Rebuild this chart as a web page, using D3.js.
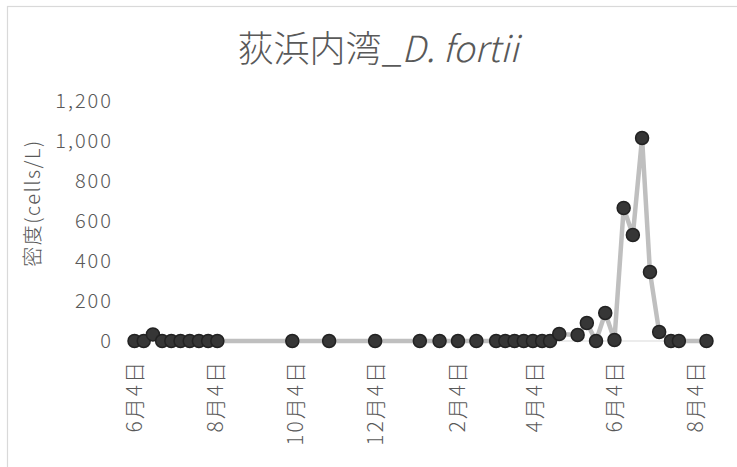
<!DOCTYPE html>
<html>
<head>
<meta charset="utf-8">
<script src="https://cdn.jsdelivr.net/npm/d3@7"></script>
<style>
    body { margin: 0; background: #fff; }
    svg { display: block; font-family: "Noto Sans CJK JP", "Noto Sans", sans-serif; font-weight: 300; }
</style>
</head>
<body>
<svg id="chart" width="737" height="467"></svg>
<script>
"use strict";

// sampling dates and densities (cells/L)
var sampleDates = [
    "2018-06-04", "2018-06-11", "2018-06-18", "2018-06-25", "2018-07-02",
    "2018-07-09", "2018-07-16", "2018-07-23", "2018-07-30", "2018-08-06",
    "2018-10-02", "2018-10-30", "2018-12-04", "2019-01-07", "2019-01-22",
    "2019-02-05", "2019-02-19", "2019-03-06", "2019-03-13", "2019-03-20",
    "2019-03-27", "2019-04-03", "2019-04-10", "2019-04-16", "2019-04-23",
    "2019-05-07", "2019-05-14", "2019-05-21", "2019-05-28", "2019-06-04",
    "2019-06-11", "2019-06-18", "2019-06-25", "2019-07-01", "2019-07-08",
    "2019-07-17", "2019-07-23", "2019-08-13"
];
var densities = [
    0, 0, 33, 0, 0,
    0, 0, 0, 0, 0,
    0, 0, 0, 0, 0,
    0, 0, 0, 0, 0,
    0, 0, 0, 0, 35,
    30, 90, 0, 140, 5,
    665, 530, 1015, 345, 45,
    0, 0, 0
];

var xTickDates = ["2018-06-04", "2018-08-04", "2018-10-04", "2018-12-04",
                  "2019-02-04", "2019-04-04", "2019-06-04", "2019-08-04"];
var yTicks = [0, 200, 400, 600, 800, 1000, 1200];

var titleMain = "荻浜内湾_";
var titleSpecies = "D. fortii";
var yTitle = "密度(cells/L)";

var parse = d3.timeParse("%Y-%m-%d");
var data = sampleDates.map(function(d, i) {
    return { date: parse(d), value: densities[i] };
});

var textColor = "#595959";
var svg = d3.select("#chart");

svg.append("rect")
    .attr("x", 0).attr("y", 0).attr("width", 737).attr("height", 467)
    .attr("fill", "#fff");

// chart border (cut off at right / bottom)
svg.append("rect")
    .attr("x", 7.5).attr("y", 6.5).attr("width", 760).attr("height", 490)
    .attr("fill", "none").attr("stroke", "#d9d9d9").attr("stroke-width", 1.2);

var x = d3.scaleTime()
    .domain([parse("2018-06-04"), parse("2019-08-13")])
    .range([134.5, 706.5]);

var y = d3.scaleLinear()
    .domain([0, 1200])
    .range([341, 101]);

// title
var title = svg.append("text")
    .attr("x", 378).attr("y", 62)
    .attr("text-anchor", "middle")
    .attr("fill", textColor)
    .style("font-size", "36px");
title.append("tspan").text(titleMain);
title.append("tspan").style("font-style", "italic").text(titleSpecies);

// y axis
var yAxis = svg.append("g")
    .attr("transform", "translate(121,0)")
    .call(d3.axisLeft(y).tickValues(yTicks).tickFormat(d3.format(",")).tickSize(0).tickPadding(8));
yAxis.select(".domain").remove();
yAxis.selectAll("text")
    .attr("fill", textColor)
    .style("font-size", "20px")
    .style("letter-spacing", "2px")
    .style("font-family", "\"Noto Sans CJK JP\", sans-serif");

svg.append("text")
    .attr("transform", "translate(33,203) rotate(-90)")
    .attr("text-anchor", "middle")
    .attr("dy", "0.35em")
    .attr("fill", textColor)
    .style("font-size", "20px")
    .style("letter-spacing", "1.5px")
    .text(yTitle);

// zero line
svg.append("line")
    .attr("x1", 128).attr("x2", 713)
    .attr("y1", y(0)).attr("y2", y(0))
    .attr("stroke", "#d9d9d9").attr("stroke-width", 1);

// x axis
var xAxis = svg.append("g")
    .attr("transform", "translate(0," + y(0) + ")")
    .call(d3.axisBottom(x)
        .tickValues(xTickDates.map(parse))
        .tickFormat(d3.timeFormat("%-m月%-d日"))
        .tickSize(0));
xAxis.select(".domain").remove();
xAxis.selectAll("text")
    .attr("transform", "rotate(-90)")
    .attr("x", -19)
    .attr("y", 0)
    .attr("dy", "0.35em")
    .attr("fill", textColor)
    .style("text-anchor", "end")
    .style("font-size", "21px")
    .style("letter-spacing", "2px")
    .style("font-family", "\"Noto Sans CJK JP\", sans-serif");

// series
var line = d3.line()
    .x(function(d) { return x(d.date); })
    .y(function(d) { return y(d.value); });

svg.append("path")
    .datum(data)
    .attr("d", line)
    .attr("fill", "none")
    .attr("stroke", "#bfbfbf")
    .attr("stroke-width", 4.5)
    .attr("stroke-linejoin", "round");

svg.append("g").selectAll("circle")
    .data(data)
    .enter().append("circle")
    .attr("cx", function(d) { return x(d.date); })
    .attr("cy", function(d) { return y(d.value); })
    .attr("r", 6.5)
    .attr("fill", "#363636")
    .attr("stroke", "#222")
    .attr("stroke-width", 1.5);
</script>
</body>
</html>
